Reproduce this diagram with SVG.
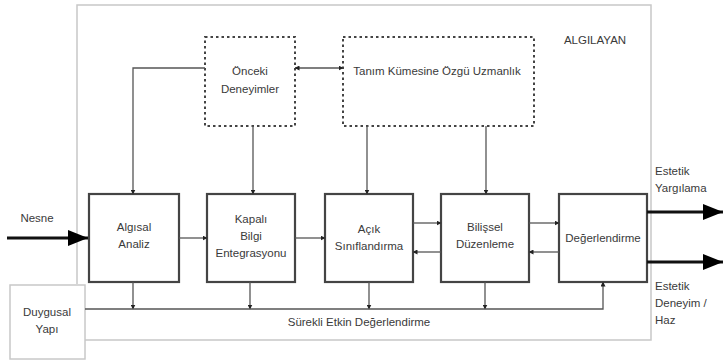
<svg xmlns="http://www.w3.org/2000/svg" width="724" height="362" viewBox="0 0 724 362">
<defs>
<style>
.t{font-family:"Liberation Sans",Arial,sans-serif;font-size:11.5px;fill:#3a3a3a;text-anchor:middle}
.box{fill:#fff;stroke:#444;stroke-width:2.2}
.dash{fill:#fff;stroke:#444;stroke-width:2;stroke-dasharray:2.5 3}
.light{fill:none;stroke:#c8c8c8;stroke-width:1.5}
.ln{fill:none;stroke:#555;stroke-width:1.3}
.thick{fill:none;stroke:#111;stroke-width:3}
</style>
<marker id="a" viewBox="0 0 10 10" refX="9" refY="5" markerWidth="5" markerHeight="5" markerUnits="userSpaceOnUse" orient="auto-start-reverse"><path d="M0,0 L10,5 L0,10 z" fill="#222"/></marker>
<marker id="big" viewBox="0 0 10 10" refX="10" refY="5" markerWidth="20" markerHeight="16" markerUnits="userSpaceOnUse" orient="auto" preserveAspectRatio="none"><path d="M0,0 L10,5 L0,10 z" fill="#000"/></marker>
</defs>
<rect width="724" height="362" fill="#fff"/>
<g id="algilayan">
<path class="light" d="M77,284 V5 H651 V340 H85"/>
<text class="t" x="595" y="44">ALGILAYAN</text>
</g>
<g id="duygusal">
<rect x="10" y="285" width="75" height="74" fill="#fff" stroke="#c8c8c8" stroke-width="1.5"/>
<text class="t" x="47" y="316">Duygusal</text>
<text class="t" x="47" y="333">Yapı</text>
</g>
<g id="onceki">
<rect class="dash" x="205" y="37" width="90" height="89"/>
<text class="t" x="250" y="75">Önceki</text>
<text class="t" x="250" y="93">Deneyimler</text>
</g>
<g id="tanim">
<rect class="dash" x="343" y="37" width="191" height="89"/>
<text class="t" x="437" y="75">Tanım Kümesine Özgü Uzmanlık</text>
</g>
<g id="algisal">
<rect class="box" x="89" y="194" width="90" height="88"/>
<text class="t" x="134" y="231">Algısal</text>
<text class="t" x="134" y="248">Analiz</text>
</g>
<g id="kapali">
<rect class="box" x="207" y="194" width="88" height="88"/>
<text class="t" x="251" y="223">Kapalı</text>
<text class="t" x="251" y="240">Bilgi</text>
<text class="t" x="251" y="257">Entegrasyonu</text>
</g>
<g id="acik">
<rect class="box" x="325" y="194" width="88" height="88"/>
<text class="t" x="369" y="233">Açık</text>
<text class="t" x="369" y="250">Sınıflandırma</text>
</g>
<g id="bilissel">
<rect class="box" x="441" y="194" width="88" height="88"/>
<text class="t" x="485" y="231">Bilişsel</text>
<text class="t" x="485" y="248">Düzenleme</text>
</g>
<g id="degerlendirme">
<rect class="box" x="559" y="194" width="88" height="88"/>
<text class="t" x="603" y="242">Değerlendirme</text>
</g>
<g id="connectors">
<path class="ln" d="M295,68 H343" marker-start="url(#a)" marker-end="url(#a)"/>
<path class="ln" d="M205,68 H133 V194" marker-end="url(#a)"/>
<path class="ln" d="M253,126 V194" marker-end="url(#a)"/>
<path class="ln" d="M367,126 V194" marker-end="url(#a)"/>
<path class="ln" d="M486,126 V194" marker-end="url(#a)"/>
<path class="ln" d="M179,238 H207" marker-end="url(#a)"/>
<path class="ln" d="M295,238 H325" marker-end="url(#a)"/>
<path class="ln" d="M413,223 H441" marker-end="url(#a)"/>
<path class="ln" d="M441,252 H413" marker-end="url(#a)"/>
<path class="ln" d="M529,223 H559" marker-end="url(#a)"/>
<path class="ln" d="M559,252 H529" marker-end="url(#a)"/>
<path class="ln" d="M133,282 V309" marker-end="url(#a)"/>
<path class="ln" d="M250,282 V309" marker-end="url(#a)"/>
<path class="ln" d="M369,282 V309" marker-end="url(#a)"/>
<path class="ln" d="M485,282 V309" marker-end="url(#a)"/>
<path class="ln" d="M85,309 H603 V282" marker-end="url(#a)"/>
<path class="thick" d="M7,238 H88" marker-end="url(#big)"/>
<path class="thick" d="M647,212 H723" marker-end="url(#big)"/>
<path class="thick" d="M647,262 H723" marker-end="url(#big)"/>
<text class="t" x="37" y="222">Nesne</text>
<text class="t" x="359" y="326">Sürekli Etkin Değerlendirme</text>
<text class="t" x="655" y="175" style="text-anchor:start">Estetik</text>
<text class="t" x="655" y="192" style="text-anchor:start">Yargılama</text>
<text class="t" x="655" y="290" style="text-anchor:start">Estetik</text>
<text class="t" x="655" y="307" style="text-anchor:start">Deneyim /</text>
<text class="t" x="655" y="324" style="text-anchor:start">Haz</text>
</g>
</svg>
